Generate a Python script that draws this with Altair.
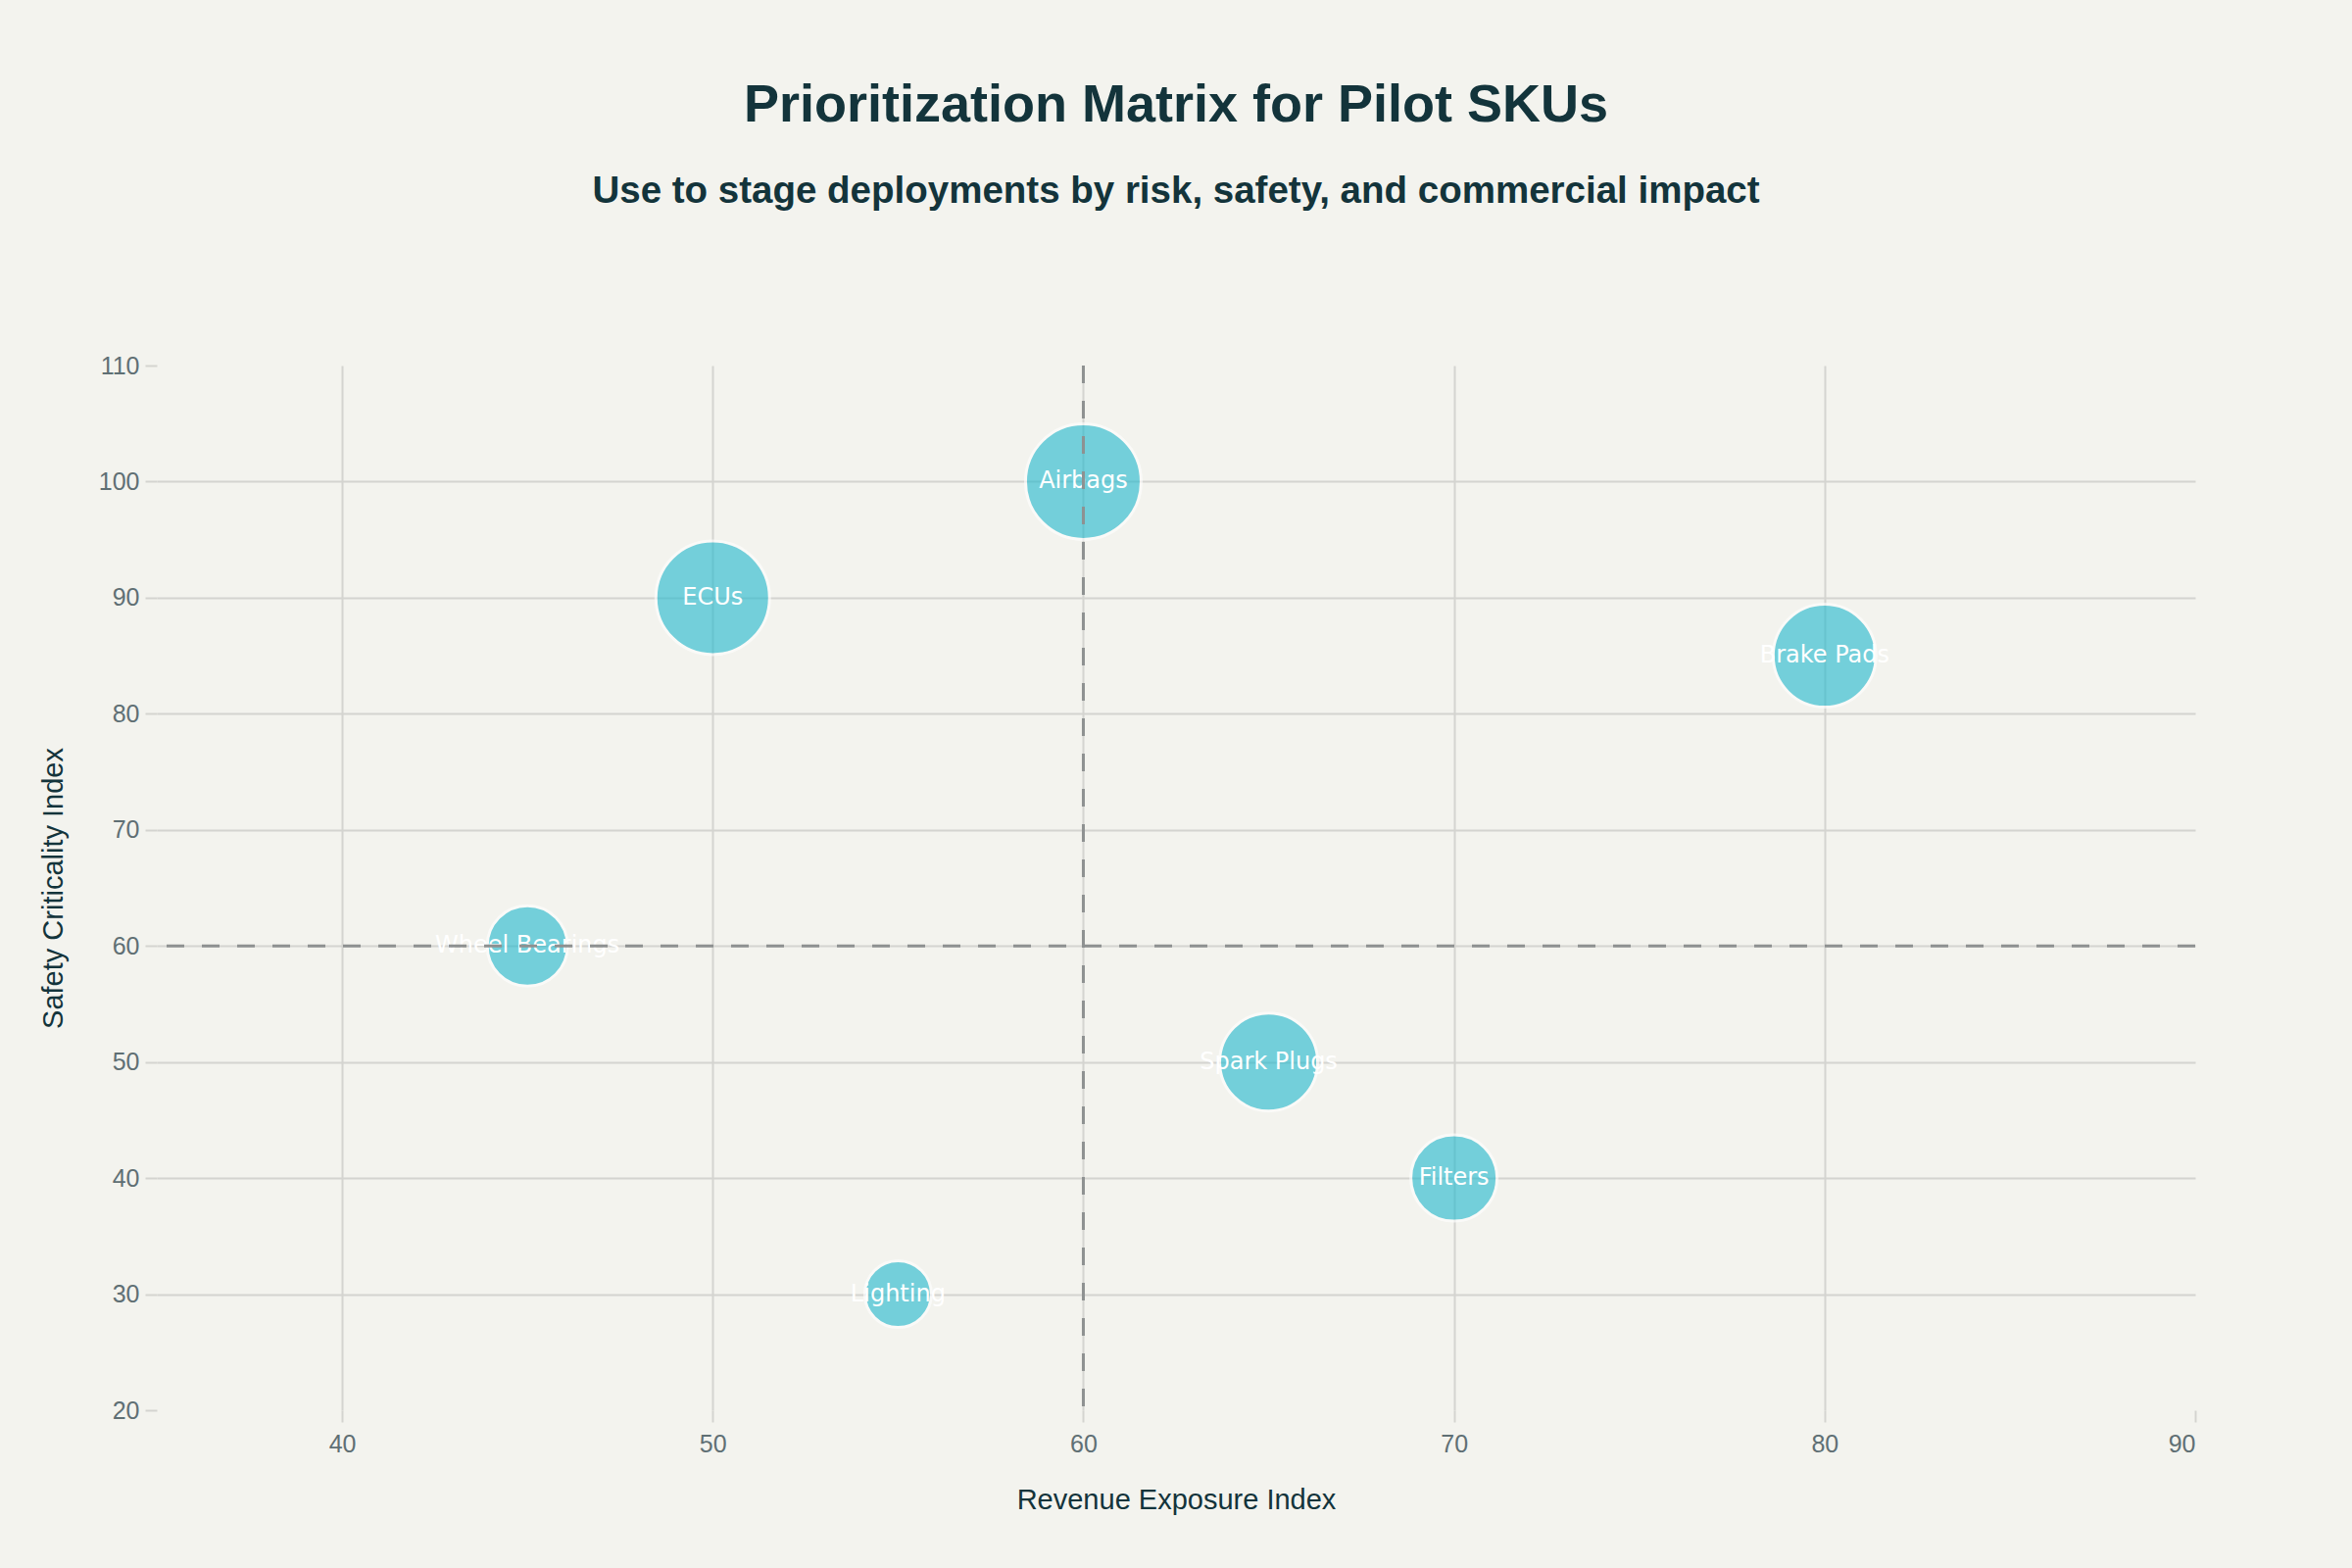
import altair as alt
import pandas as pd

# ---- data ----
skus = ["Airbags", "ECUs", "Brake Pads", "Wheel Bearings", "Spark Plugs", "Filters", "Lighting"]
revenue_exposure = [60, 50, 80, 45, 65, 70, 55]
safety_criticality = [100, 90, 85, 60, 50, 40, 30]
bubble_size = [59, 58, 52.5, 41, 50, 44, 34]

x_threshold = [60]
y_threshold = [60]

x_ticks = [40, 50, 60, 70, 80, 90]
y_ticks = [20, 30, 40, 50, 60, 70, 80, 90, 100, 110]

df = pd.DataFrame({
    "SKU": skus,
    "Revenue": revenue_exposure,
    "Safety": safety_criticality,
    "Size": bubble_size,
})

BG = "#F3F3EE"
DARK = "#13343B"
GRID = "#D4D4D0"
TICKLAB = "#5F6F74"
FONT = "Liberation Sans"

x_scale = alt.Scale(domain=[35, 90], nice=False, zero=False)
y_scale = alt.Scale(domain=[20, 110], nice=False, zero=False)

x_axis = alt.Axis(
    values=x_ticks, title="Revenue Exposure Index", domain=False,
    grid=True, gridColor={"condition": {"test": "datum.value == 90", "value": "transparent"}, "value": GRID},
    gridWidth=2, tickColor=GRID, tickWidth=2, tickSize=12,
    labelFont=FONT, labelFontSize=25, labelColor=TICKLAB, labelPadding=10,
    titleFont=FONT, titleFontSize=29, titleColor=DARK, titleFontWeight="normal", titlePadding=30,
)
y_axis = alt.Axis(
    values=y_ticks, title="Safety Criticality Index", domain=False,
    grid=True, gridColor={"condition": {"test": "datum.value == 110 || datum.value == 20", "value": "transparent"}, "value": GRID},
    gridWidth=2, tickColor=GRID, tickWidth=2, tickSize=12,
    labelFont=FONT, labelFontSize=25, labelColor=TICKLAB, labelPadding=6,
    titleFont=FONT, titleFontSize=29, titleColor=DARK, titleFontWeight="normal", titlePadding=31,
)

base = alt.Chart(df)

# Vega symbol size = (diameter)^2 ; bubble value = radius in px
points = base.transform_calculate(
    area="4 * datum.Size * datum.Size"
).mark_circle(
    color="#1FB8CD", opacity=0.6, stroke="white", strokeWidth=3
).encode(
    x=alt.X("Revenue:Q", scale=x_scale, axis=x_axis),
    y=alt.Y("Safety:Q", scale=y_scale, axis=y_axis),
    size=alt.Size("area:Q", scale=None, legend=None),
)

labels = base.mark_text(
    color="white", font="DejaVu Sans", fontSize=24, align="center", baseline="middle"
).encode(
    x=alt.X("Revenue:Q", scale=x_scale),
    y=alt.Y("Safety:Q", scale=y_scale),
    text="SKU:N",
)

vrule = alt.Chart(pd.DataFrame({"v": x_threshold})).mark_rule(
    color="#8E9191", strokeWidth=3, strokeDash=[18, 18]
).encode(x=alt.X("v:Q", scale=x_scale))

hrule = alt.Chart(pd.DataFrame({"v": y_threshold})).mark_rule(
    color="#8E9191", strokeWidth=3, strokeDash=[18, 18]
).encode(y=alt.Y("v:Q", scale=y_scale))

chart = alt.layer(points, labels, vrule, hrule).properties(
    width=2080,
    height=1066,
    padding={"left": 160, "top": 373, "right": 160, "bottom": 161},
    autosize=alt.AutoSizeParams(type="none"),
    background=BG,
    title=alt.TitleParams(
        text="Prioritization Matrix for Pilot SKUs",
        subtitle="Use to stage deployments by risk, safety, and commercial impact",
        anchor="middle",
        font=FONT, fontSize=54, fontWeight="bold", color=DARK,
        subtitleFont=FONT, subtitleFontSize=38.5, subtitleFontWeight="bold", subtitleColor=DARK,
        subtitlePadding=42, offset=147,
    ),
).configure_view(strokeWidth=0)

chart.save("out.html", embed_options={"renderer": "svg", "actions": False})
